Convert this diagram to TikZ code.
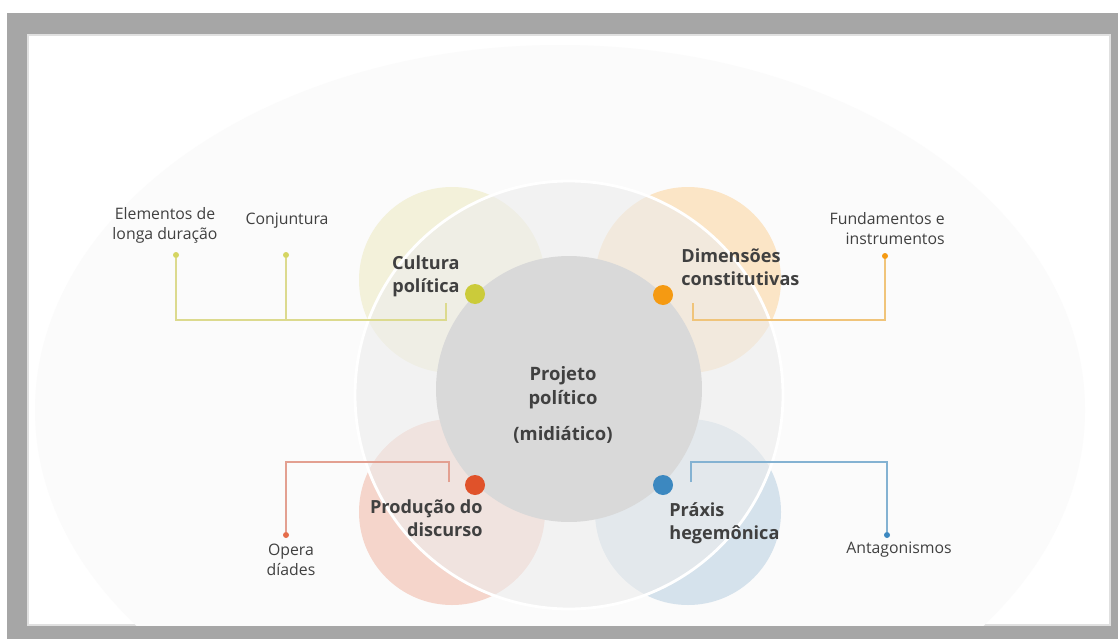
\documentclass[tikz,border=0pt]{standalone}
\usepackage{fontspec}
\setmainfont{Open Sans}
\definecolor{frame}{HTML}{A6A6A6}
\definecolor{bgc}{HTML}{FBFBFB}
\definecolor{txt}{HTML}{404040}
\definecolor{cyel}{HTML}{F3F1DA}
\definecolor{cora}{HTML}{FBE5C6}
\definecolor{cred}{HTML}{F5D5CB}
\definecolor{cblu}{HTML}{D5E2EC}
\definecolor{midc}{HTML}{EDEDED}
\definecolor{core}{HTML}{D9D9D9}
\definecolor{dyel}{HTML}{CBCB3A}
\definecolor{dora}{HTML}{F59A12}
\definecolor{dred}{HTML}{E0522A}
\definecolor{dblu}{HTML}{3C88C0}
\definecolor{lyel}{HTML}{DCDA8E}
\definecolor{lora}{HTML}{F0C47A}
\definecolor{lred}{HTML}{E3A091}
\definecolor{lblu}{HTML}{84B2D2}
\begin{document}
\begin{tikzpicture}[x=0.02cm,y=-0.02cm,
  lbl/.style={font=\fontsize{10.3}{13}\selectfont\bfseries, text=txt, inner sep=0},
  small/.style={font=\fontsize{9}{11.4}\selectfont, text=txt, inner sep=0},
  bigdot/.style={circle, inner sep=0, minimum size=0.4cm},
  smalldot/.style={circle, inner sep=0, minimum size=0.12cm},
  conn/.style={line width=0.6pt}]
\useasboundingbox (0,0) rectangle (1118,639);
% frame
\fill[white] (0,0) rectangle (1118,639);
\fill[frame] (7,13) rectangle (1118,639);
\fill[white] (28,35) rectangle (1110,625);
\draw[black!12, line width=0.8pt] (28,35) rectangle (1110,625);
% big faint background shape
\begin{scope}
  \clip (28,35) rectangle (1110,625);
  \fill[bgc] (560,410) ellipse [x radius=525, y radius=365];
\end{scope}
% coloured petals
\fill[cyel] (452,280) circle [radius=93];
\fill[cora] (688,280) circle [radius=93];
\fill[cred] (452,512) circle [radius=93];
\fill[cblu] (688,512) circle [radius=93];
% middle ring
\fill[midc, fill opacity=0.6] (569,395) circle [radius=214];
\draw[white, line width=1.6pt] (569,395) circle [radius=214];
% core
\node[circle, fill=core, minimum size=5.32cm, inner sep=0] (core) at (569,389) {};
\node[lbl, align=center, font=\fontsize{10.5}{13.5}\selectfont\bfseries] (proj) at (563,388) {Projeto\\político};
\node[lbl, font=\fontsize{10.5}{13.5}\selectfont\bfseries] (mid) at (563,435) {(midiático)};
% big dots
\node[bigdot, fill=dyel] (dy) at (475,294) {};
\node[bigdot, fill=dora] (do) at (663,295) {};
\node[bigdot, fill=dred] (dr) at (475,485) {};
\node[bigdot, fill=dblu] (db) at (663,485) {};
% main labels
\node[lbl, align=right, anchor=east] (cult) at (460,276) {Cultura\\política};
\node[lbl, align=left, anchor=west] (dim) at (681,267) {Dimensões\\constitutivas};
\node[lbl, align=right, anchor=east] (prod) at (483,518) {Produção do\\discurso};
\node[lbl, align=left, anchor=west] (prax) at (669,523) {Práxis\\hegemônica};
% small dots and labels
\node[smalldot, fill=dyel!80] (sy1) at (176,255) {};
\node[smalldot, fill=dyel!80] (sy2) at (286,255) {};
\node[smalldot, fill=dora] (so) at (885,256) {};
\node[smalldot, fill=dred!85] (sr) at (286,535) {};
\node[smalldot, fill=dblu] (sb) at (887,535) {};
\node[small, align=center] (elem) at (165,225) {Elementos de\\longa duração};
\node[small] (conj) at (287,221) {Conjuntura};
\node[small, align=right, anchor=east] (fund) at (945,229) {Fundamentos e\\instrumentos};
\node[small, align=center] (oper) at (291,560) {Opera\\díades};
\node[small] (anta) at (899,550) {Antagonismos};
% connector corners
\coordinate (cy0) at (446,303);
\coordinate (cy1) at (446,320);
\coordinate (cy2) at (176,320);
\coordinate (cy3) at (286,320);
\coordinate (co0) at (693,303);
\coordinate (co1) at (693,320);
\coordinate (co2) at (885,320);
\coordinate (cr0) at (449,482);
\coordinate (cr1) at (449,462);
\coordinate (cr2) at (286,462);
\coordinate (cb0) at (691,482);
\coordinate (cb1) at (691,462);
\coordinate (cb2) at (887,462);
% connectors
\draw[conn, lyel] (sy1) -- (cy2) -- (cy1) -- (cy0);
\draw[conn, lyel] (sy2) -- (cy3);
\draw[conn, lora] (so) -- (co2) -- (co1) -- (co0);
\draw[conn, lred] (cr0) -- (cr1) -- (cr2) -- (sr);
\draw[conn, lblu] (cb0) -- (cb1) -- (cb2) -- (sb);
\end{tikzpicture}
\end{document}
